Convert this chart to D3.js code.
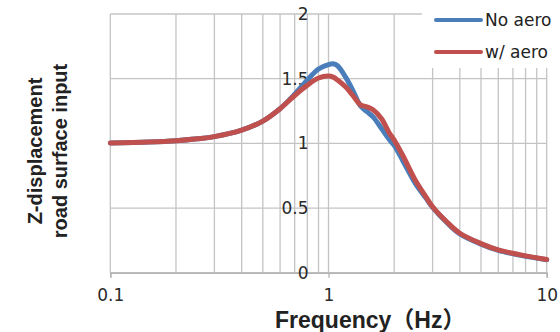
<!DOCTYPE html>
<html>
<head>
<meta charset="utf-8">
<script src="https://cdn.jsdelivr.net/npm/d3@7"></script>
<style>
  body { margin: 0; background: #fff; }
  svg { display: block; }
</style>
</head>
<body>
<svg id="chart" width="560" height="332"></svg>
<script>
// frequency (Hz) sample points
const freq = [0.1, 0.15, 0.2, 0.25, 0.3, 0.4, 0.5, 0.6, 0.7, 0.8, 0.9, 1.0, 1.05, 1.1, 1.2, 1.3, 1.4, 1.5, 1.6, 1.75, 1.9, 2.0, 2.2, 2.5, 2.8, 3.0, 3.5, 4, 5, 6, 7.5, 10]
const noAero = [1.003, 1.01, 1.02, 1.035, 1.052, 1.102, 1.172, 1.268, 1.38, 1.49, 1.575, 1.608, 1.615, 1.60, 1.51, 1.40, 1.29, 1.245, 1.205, 1.115, 1.03, 0.985, 0.86, 0.69, 0.575, 0.505, 0.385, 0.30, 0.221, 0.172, 0.136, 0.10]
const wAero = [1.003, 1.01, 1.02, 1.035, 1.052, 1.102, 1.172, 1.268, 1.37, 1.45, 1.505, 1.52, 1.512, 1.49, 1.435, 1.365, 1.298, 1.283, 1.26, 1.19, 1.08, 1.025, 0.90, 0.715, 0.585, 0.51, 0.39, 0.305, 0.225, 0.176, 0.14, 0.102]
const seriesNames = ["No aero", "w/ aero"]
const seriesColors = ["#4a7ebb", "#c0504d"]
const xTickLabels = [0.1, 1, 10]
const yTickLabels = [0, 0.5, 1, 1.5, 2]

const svg = d3.select("#chart")
const plotL = 110.3, plotR = 546.7, plotT = 14, plotB = 272.7

const x = d3.scaleLog().domain([0.1, 10]).range([plotL, plotR])
const y = d3.scaleLinear().domain([0, 2]).range([plotB, plotT])

// grid
const grid = svg.append("g")
grid.selectAll("line.v")
	.data(x.ticks())
	.join("line")
	.attr("class", "v")
	.attr("x1", d => x(d)).attr("x2", d => x(d))
	.attr("y1", plotT).attr("y2", plotB)
	.attr("stroke", "#c4c4c4").attr("stroke-width", 1.3)
grid.selectAll("line.h")
	.data(yTickLabels)
	.join("line")
	.attr("class", "h")
	.attr("x1", plotL).attr("x2", plotR)
	.attr("y1", d => y(d)).attr("y2", d => y(d))
	.attr("stroke", "#c4c4c4").attr("stroke-width", 1.3)

// x axis
svg.append("g")
	.attr("transform", `translate(0,${plotB})`)
	.call(d3.axisBottom(x).tickValues(xTickLabels).tickSize(5).tickPadding(11).tickFormat(d3.format("")))
	.call(g => {
		g.select(".domain").attr("stroke", "#b4b4b4").attr("stroke-width", 1.5)
		g.selectAll(".tick line").attr("stroke", "#b4b4b4").attr("stroke-width", 1.3)
		g.selectAll("text").attr("font-family", "DejaVu Sans").attr("font-size", 17).attr("fill", "#2a2a2a")
	})

// y axis sits at f = 1
svg.append("g")
	.attr("transform", `translate(${x(1)},0)`)
	.call(d3.axisLeft(y).tickValues(yTickLabels).tickSize(0).tickPadding(20).tickFormat(d3.format("")))
	.call(g => {
		g.select(".domain").remove()
		g.selectAll("text").attr("font-family", "DejaVu Sans").attr("font-size", 17).attr("fill", "#2a2a2a")
	})

// curves
const line = d3.line()
	.x(d => x(d[0]))
	.y(d => y(d[1]))
	.curve(d3.curveCatmullRom.alpha(0.5))

;[noAero, wAero].forEach((vals, i) => {
	svg.append("path")
		.datum(freq.map((f, j) => [f, vals[j]]))
		.attr("d", line)
		.attr("fill", "none")
		.attr("stroke", seriesColors[i])
		.attr("stroke-width", 5)
		.attr("stroke-linecap", "round")
		.attr("stroke-linejoin", "round")
})

// legend
const legend = svg.append("g")
legend.append("rect")
	.attr("x", 422).attr("y", 0).attr("width", 138).attr("height", 68)
	.attr("fill", "#fff")
seriesNames.forEach((name, i) => {
	const ly = 20 + i * 32
	legend.append("line")
		.attr("x1", 436).attr("x2", 481)
		.attr("y1", ly).attr("y2", ly)
		.attr("stroke", seriesColors[i]).attr("stroke-width", 4)
		.attr("stroke-linecap", "round")
	legend.append("text")
		.attr("x", 485).attr("y", ly)
		.attr("dy", "0.36em")
		.attr("font-family", "DejaVu Sans").attr("font-size", 17)
		.attr("fill", "#222")
		.text(name)
})

// axis titles
svg.append("text")
	.attr("x", 275).attr("y", 328)
	.attr("font-family", "Liberation Sans, Arial, Noto Sans CJK JP")
	.attr("font-weight", "bold").attr("font-size", 23)
	.attr("fill", "#222")
	.text("Frequency（Hz）")

const yTitle = svg.append("text")
	.attr("transform", "translate(42,151) rotate(-90)")
	.attr("text-anchor", "middle")
	.attr("font-family", "Liberation Sans, Arial")
	.attr("font-weight", "bold").attr("font-size", 20)
	.attr("fill", "#222")
yTitle.append("tspan").attr("x", 0).attr("y", 0).text("Z-displacement")
yTitle.append("tspan").attr("x", 0).attr("y", 25).text("road surface input")
</script>
</body>
</html>
